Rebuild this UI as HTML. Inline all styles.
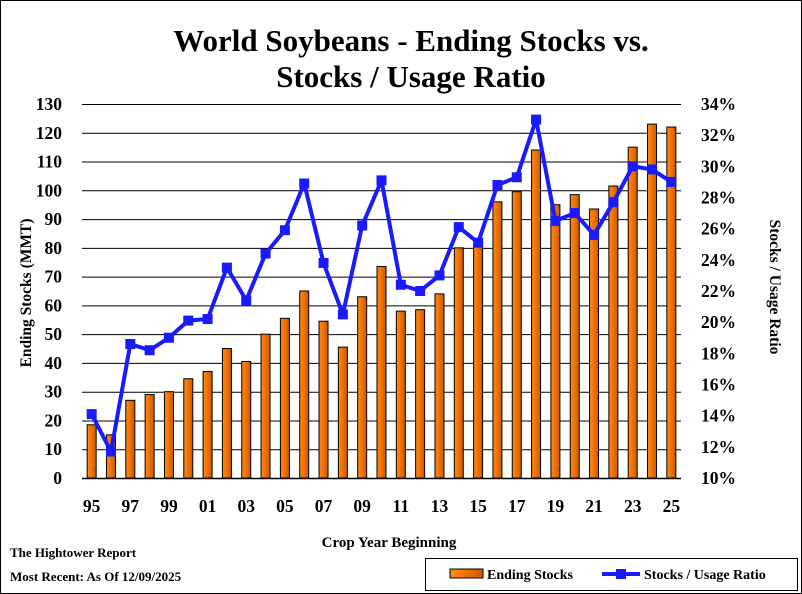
<!DOCTYPE html>
<html><head><meta charset="utf-8"><style>
body{margin:0;background:#fff;}
svg{display:block;font-family:"Liberation Serif",serif;font-weight:bold;}
</style></head><body>
<svg width="802" height="594" viewBox="0 0 802 594">
<defs><linearGradient id="og" x1="0" x2="1"><stop offset="0" stop-color="#ff8c1a"/><stop offset="0.5" stop-color="#f07000"/><stop offset="1" stop-color="#c85a00"/></linearGradient></defs>
<rect x="0.5" y="0.5" width="801" height="593" fill="#fff" stroke="#000"/>
<text x="411" y="51" font-size="31" text-anchor="middle">World Soybeans - Ending Stocks vs.</text>
<text x="411" y="87" font-size="31" text-anchor="middle">Stocks / Usage Ratio</text>
<g id="grid"></g><g id="bars"></g><g id="line"></g><g id="axes"></g>
<text transform="translate(31,293) rotate(-90)" font-size="15.5" text-anchor="middle">Ending Stocks (MMT)</text>
<text transform="translate(770,287) rotate(90)" font-size="15.5" text-anchor="middle">Stocks / Usage Ratio</text>
<text x="389" y="547" font-size="15" text-anchor="middle">Crop Year Beginning</text>
<text x="10" y="557" font-size="13">The Hightower Report</text>
<text x="10" y="581" font-size="13">Most Recent: As Of 12/09/2025</text>
<g>
<rect x="425.5" y="558.5" width="372" height="32" fill="#fff" stroke="#000"/>
<rect x="450" y="569" width="33" height="9" fill="url(#og)" stroke="#000"/>
<text x="487" y="579" font-size="14">Ending Stocks</text>
<line x1="602" y1="574" x2="640" y2="574" stroke="#1a1aff" stroke-width="4"/>
<rect x="616" y="569" width="10" height="10" fill="#1a1aff"/>
<text x="644" y="579" font-size="14">Stocks / Usage Ratio</text>
</g>
</svg>
<script>
const years=["95","96","97","98","99","00","01","02","03","04","05","06","07","08","09","10","11","12","13","14","15","16","17","18","19","20","21","22","23","24","25"];
const stocks=[18.5,15,27,29,30,34.5,37,45,40.5,50,55.5,65,54.5,45.5,63,73.5,58,58.5,64,80,80.5,96,99.5,114,95,98.5,93.5,101.5,115,123,122];
const ratio=[14.1,11.7,18.6,18.2,19.0,20.1,20.2,23.5,21.4,24.4,25.9,28.9,23.8,20.5,26.2,29.1,22.4,22.0,23.0,26.1,25.1,28.8,29.3,33.0,26.5,27.0,25.6,27.7,30.0,29.8,29.0];
const leftTicks=[0,10,20,30,40,50,60,70,80,90,100,110,120,130];
const rightTicks=[10,12,14,16,18,20,22,24,26,28,30,32,34];
const xLabelIdx=[0,2,4,6,8,10,12,14,16,18,20,22,24,26,28,30];
const NS="http://www.w3.org/2000/svg";
const X0=82,X1=681,Y0=478,Y1=104;
const step=(X1-X0)/years.length;
const xc=i=>X0+step*(i+0.5);
const yL=v=>Y0-(v/130)*(Y0-Y1);
const yR=v=>Y0-((v-10)/24)*(Y0-Y1);
function mk(tag,attrs,parent){const e=document.createElementNS(NS,tag);for(const k in attrs)e.setAttribute(k,attrs[k]);document.getElementById(parent).appendChild(e);return e;}
leftTicks.forEach(t=>{
 const g=mk('line',{x1:X0,x2:X1,y1:yL(t)+0.5,y2:yL(t)+0.5,stroke:'#000','stroke-width':1},'grid');
 
 
 const tx=mk('text',{x:62,y:yL(t)+6,'font-size':17.5,'text-anchor':'end'},'axes');tx.textContent=t;
 
 
});
rightTicks.forEach(t=>{
 const tx=mk('text',{x:701,y:yR(t)+6,'font-size':17.5},'axes');tx.textContent=t+'%';
 
 
});
xLabelIdx.forEach(i=>{
 const tx=mk('text',{x:xc(i),y:512,'font-size':17.5,'text-anchor':'middle'},'axes');tx.textContent=years[i];
 
 
});
stocks.forEach((v,i)=>{
 const b=mk('rect',{x:xc(i)-4.5,y:yL(v),width:9,height:Y0-yL(v),fill:'url(#og)',stroke:'#000','stroke-width':1},'bars');
 
 
});
const pts=ratio.map((v,i)=>xc(i)+','+yR(v)).join(' ');
const pl=mk('polyline',{points:pts,fill:'none',stroke:'#1a1aff','stroke-width':4,'stroke-linejoin':'round'},'line');


ratio.forEach((v,i)=>{
 const m=mk('rect',{x:xc(i)-5,y:yR(v)-5,width:10,height:10,fill:'#1a1aff'},'line');
 
 
});
const ax=mk('line',{x1:X0,x2:X1,y1:Y0+0.5,y2:Y0+0.5,stroke:'#000','stroke-width':1.5},'axes');


</script>
</body></html>
